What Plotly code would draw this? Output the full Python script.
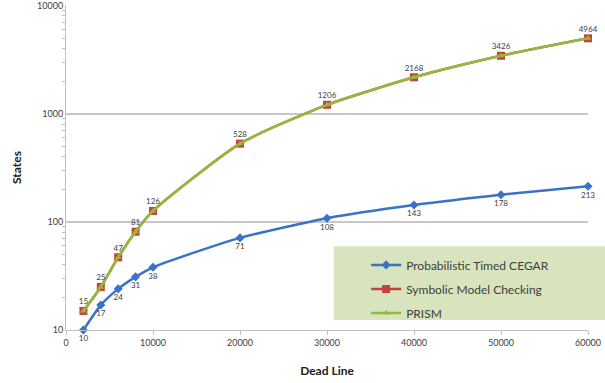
import plotly.graph_objects as go

deadline = [2000, 4000, 6000, 8000, 10000, 20000, 30000, 40000, 50000, 60000]
cegar = [10, 17, 24, 31, 38, 71, 108, 143, 178, 213]
symbolic = [15, 25, 47, 81, 126, 528, 1206, 2168, 3426, 4964]
prism = [15, 25, 47, 81, 126, 528, 1206, 2168, 3426, 4964]

x_ticks = [0, 10000, 20000, 30000, 40000, 50000, 60000]
y_ticks = [10, 100, 1000, 10000]

FONT = "Lato, Carlito, 'Liberation Sans', sans-serif"
BLUE = "#3a72c8"
RED = "#c8403d"
GREEN = "#92bb3c"

minor_vals = [m * d for d in (10, 100, 1000) for m in range(2, 10)]

fig = go.Figure()
fig.add_trace(go.Scatter(
    x=deadline, y=cegar, name="Probabilistic Timed CEGAR", legendgroup="a",
    mode="lines+markers+text", line=dict(color=BLUE, width=2.5, shape="spline", smoothing=0.6),
    marker=dict(symbol="diamond", size=7, color=BLUE), cliponaxis=False,
    text=[str(v) for v in cegar], textposition="bottom center",
    textfont=dict(size=8, color="#404040", family=FONT),
))
fig.add_trace(go.Scatter(
    x=deadline, y=symbolic, name="Symbolic Model Checking", legendgroup="b",
    mode="lines+markers", line=dict(color=RED, width=2.5, shape="spline", smoothing=0.6),
    marker=dict(symbol="square", size=8, color=RED), cliponaxis=False,
))
fig.add_trace(go.Scatter(
    x=deadline, y=prism, name="PRISM", legendgroup="c",
    mode="lines+markers+text", line=dict(color=GREEN, width=2.5, shape="spline", smoothing=0.6),
    marker=dict(symbol="triangle-up", size=6, color=GREEN), cliponaxis=False,
    text=[str(v) for v in prism], textposition="top center",
    textfont=dict(size=8, color="#404040", family=FONT),
))

fig.add_shape(type="rect", xref="paper", yref="paper",
              x0=0.513, x1=1.04, y0=0.031, y1=0.258,
              fillcolor="#d7e4bd", line=dict(width=0), layer="below")

fig.update_layout(
    width=605, height=383,
    margin=dict(l=66, r=17, t=5, b=53),
    paper_bgcolor="white", plot_bgcolor="white",
    font=dict(family=FONT, size=9, color="#404040"),
    showlegend=True,
    legend=dict(x=0.575, y=0.245, xanchor="left", yanchor="top",
                bgcolor="rgba(0,0,0,0)", font=dict(size=12, color="#404040", family=FONT),
                tracegroupgap=5),
    xaxis=dict(range=[0, 60000], tickvals=x_ticks, ticktext=[str(v) for v in x_ticks],
               showgrid=False, zeroline=False, showline=True, linecolor="#bfbfbf",
               ticks="outside", ticklen=4, tickcolor="#bfbfbf", ticklabeloverflow="allow",
               tickfont=dict(size=9, color="#404040"), automargin=False,
               title=dict(text="<b>Dead Line</b>", font=dict(size=12, color="#202020"), standoff=19)),
    yaxis=dict(type="log", range=[1, 4.004], tickvals=y_ticks, ticktext=[str(v) for v in y_ticks],
               showgrid=True, gridcolor="#c8c8c8", gridwidth=1.5, zeroline=False,
               showline=True, linecolor="#bfbfbf", ticks="", ticklabeloverflow="allow",
               minor=dict(tickvals=minor_vals, ticks="outside", ticklen=3, tickcolor="#bfbfbf", showgrid=False),
               tickfont=dict(size=9, color="#404040"), automargin=False,
               title=dict(text="<b>States</b>", font=dict(size=12, color="#202020"), standoff=12)),
)

fig.write_html("out.html", config={"displayModeBar": False},
               post_script="document.body.style.margin='0';")
